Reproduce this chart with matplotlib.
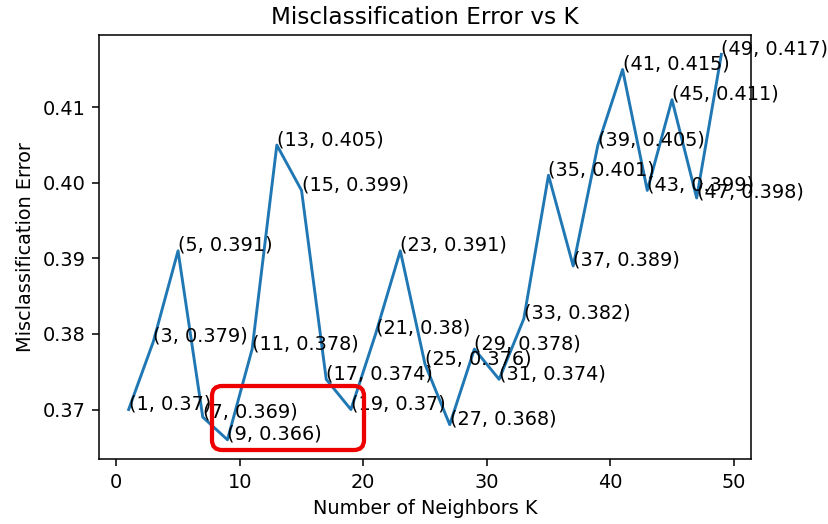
import matplotlib
matplotlib.use("Agg")
import matplotlib.pyplot as plt
from matplotlib.patches import FancyBboxPatch
from matplotlib.transforms import IdentityTransform

# data
neighbors = list(range(1, 50, 2))
errors = [0.37, 0.379, 0.391, 0.369, 0.366, 0.378, 0.405, 0.399, 0.374, 0.37,
          0.38, 0.391, 0.376, 0.368, 0.378, 0.374, 0.382, 0.401, 0.389, 0.405,
          0.415, 0.399, 0.411, 0.398, 0.417]

fig = plt.figure(figsize=(828 / 139, 524 / 139), dpi=139)
ax = fig.add_axes([0.1196, 0.124, 0.9070 - 0.1196, 0.933 - 0.124])

ax.plot(neighbors, errors)
for k, e in zip(neighbors, errors):
    ax.annotate('(%s, %s)' % (k, round(e, 3)), xy=(k, e))

ax.set_title('Misclassification Error vs K')
ax.set_xlabel('Number of Neighbors K')
ax.set_ylabel('Misclassification Error')
ax.set_yticks([0.37, 0.38, 0.39, 0.40, 0.41])
ax.set_xticks([0, 10, 20, 30, 40, 50])

# red highlight box (pixel coordinates, origin bottom-left)
box = FancyBboxPatch((212, 524 - 450), 152, 64,
                     boxstyle="round,pad=0,rounding_size=10",
                     transform=IdentityTransform(), fill=False,
                     edgecolor='#ee0000', linewidth=2.2)
fig.add_artist(box)

fig.savefig('out.png', dpi=139)
